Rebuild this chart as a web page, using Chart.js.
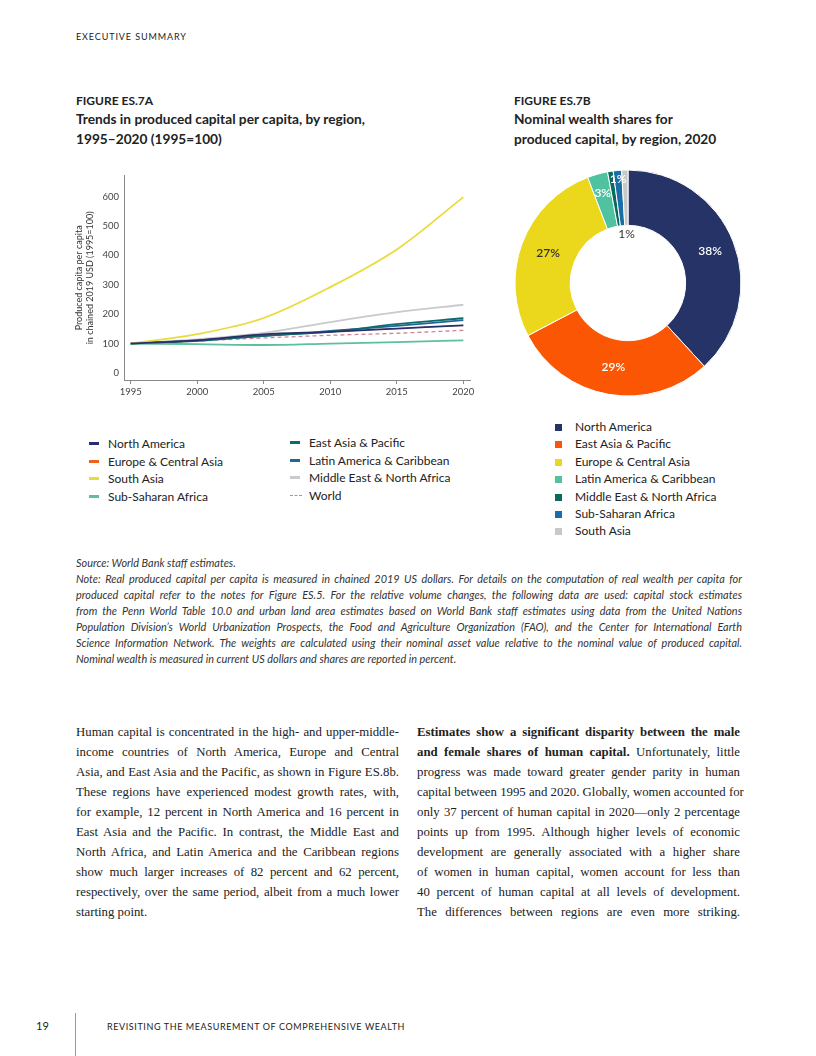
<!DOCTYPE html>
<html>
<head>
<meta charset="utf-8">
<script src="https://cdn.jsdelivr.net/npm/chart.js@4.4.1/dist/chart.umd.min.js"></script>
<style>
  body { margin: 0; background: #fff; }
  #page { position: relative; width: 816px; height: 1056px; font-family: Lato, "Noto Sans", sans-serif; color: #222; overflow: hidden; }
  .abs { position: absolute; white-space: nowrap; }
  .runhead { font-size: 9px; letter-spacing: 0.9px; }
  .foot { font-size: 9px; letter-spacing: 0.6px; }
  .figno { font-size: 12px; font-weight: 700; }
  .figtitle { font-size: 13.7px; font-weight: 700; line-height: 20px; }
  .legend { position: absolute; font-size: 12px; color: #222; }
  .legend .row { position: absolute; white-space: nowrap; height: 16px; line-height: 16px; }
  .legend .mk { position: absolute; }
  .notes { position: absolute; left: 76px; top: 555px; width: 666px; font-size: 10.9px; font-style: italic; line-height: 16px; color: #333; }
  .notes div { text-align: justify; text-align-last: justify; white-space: nowrap; }
  .notes div.last { text-align-last: left; }
  .body { position: absolute; top: 722px; width: 323px; font-family: "Liberation Serif", "DejaVu Serif", serif; font-size: 12.8px; line-height: 20px; color: #222; }
  .body div { text-align: justify; text-align-last: justify; white-space: nowrap; }
  .body div.last { text-align-last: left; }
  canvas { position: absolute; }
</style>
</head>
<body>
<div id="page">
  <div class="abs runhead" style="left:76px; top:31px;">EXECUTIVE SUMMARY</div>

  <div class="abs figno" style="left:76px; top:93px;">FIGURE ES.7A</div>
  <div class="abs figtitle" style="left:76px; top:109px;">Trends in produced capital per capita, by region,<br>1995–2020 (1995=100)</div>

  <div class="abs figno" style="left:514px; top:93px;">FIGURE ES.7B</div>
  <div class="abs figtitle" style="left:514px; top:109px;">Nominal wealth shares for<br>produced capital, by region, 2020</div>

  <div style="position:absolute; left:70px; top:165px; width:415px; height:240px;"><canvas id="lineChart" width="415" height="240"></canvas></div>
  <div style="position:absolute; left:508px; top:163px; width:240px; height:240px;"><canvas id="donutChart" width="240" height="240"></canvas></div>

  <div class="legend" id="lineLegend"></div>
  <div class="legend" id="donutLegend"></div>

  <div class="notes">
    <div class="last">Source: World Bank staff estimates.</div>
    <div>Note: Real produced capital per capita is measured in chained 2019 US dollars. For details on the computation of real wealth per capita for</div>
    <div>produced capital refer to the notes for Figure ES.5. For the relative volume changes, the following data are used: capital stock estimates</div>
    <div>from the Penn World Table 10.0 and urban land area estimates based on World Bank staff estimates using data from the United Nations</div>
    <div>Population Division’s World Urbanization Prospects, the Food and Agriculture Organization (FAO), and the Center for International Earth</div>
    <div>Science Information Network. The weights are calculated using their nominal asset value relative to the nominal value of produced capital.</div>
    <div class="last">Nominal wealth is measured in current US dollars and shares are reported in percent.</div>
  </div>

  <div class="body" style="left:76px;">
    <div>Human capital is concentrated in the high- and upper-middle-</div>
    <div>income countries of North America, Europe and Central</div>
    <div>Asia, and East Asia and the Pacific, as shown in Figure ES.8b.</div>
    <div>These regions have experienced modest growth rates, with,</div>
    <div>for example, 12 percent in North America and 16 percent in</div>
    <div>East Asia and the Pacific. In contrast, the Middle East and</div>
    <div>North Africa, and Latin America and the Caribbean regions</div>
    <div>show much larger increases of 82 percent and 62 percent,</div>
    <div>respectively, over the same period, albeit from a much lower</div>
    <div class="last">starting point.</div>
  </div>

  <div class="body" style="left:417px;">
    <div><b>Estimates show a significant disparity between the male</b></div>
    <div><b>and female shares of human capital.</b> Unfortunately, little</div>
    <div>progress was made toward greater gender parity in human</div>
    <div>capital between 1995 and 2020. Globally, women accounted for</div>
    <div>only 37 percent of human capital in 2020—only 2 percentage</div>
    <div>points up from 1995. Although higher levels of economic</div>
    <div>development are generally associated with a higher share</div>
    <div>of women in human capital, women account for less than</div>
    <div>40 percent of human capital at all levels of development.</div>
    <div>The differences between regions are even more striking.</div>
  </div>

  <div class="abs" style="left:36px; top:1019px; font-size:11px;">19</div>
  <div style="position:absolute; left:75px; top:1013px; width:1px; height:43px; background:#999;"></div>
  <div class="abs foot" style="left:107px; top:1021px;">REVISITING THE MEASUREMENT OF COMPREHENSIVE WEALTH</div>
</div>

<script>
// ---- Figure ES.7A data (index, 1995 = 100) ----
const years = [1995, 2000, 2005, 2010, 2015, 2020];
const lineRegions = ['North America', 'Europe & Central Asia', 'South Asia', 'Sub-Saharan Africa',
                     'East Asia & Pacific', 'Latin America & Caribbean', 'Middle East & North Africa', 'World'];
const northAmerica = [100, 111, 131, 140, 151, 162];
const europeCentralAsia = [100, 111, 131, 140, 151, 162]; // not visible in the picture, sits under North America
const southAsia = [100, 132, 187, 292, 420, 598];
const subSaharanAfrica = [100, 98, 95, 100, 105, 111];
const eastAsiaPacific = [100, 109, 127, 140, 166, 186];
const latinAmerica = [100, 111, 125, 143, 160, 180];
const middleEastNorthAfrica = [100, 114, 136, 173, 207, 232];
const world = [100, 109, 119, 128, 135, 145];
const yTicks = [0, 100, 200, 300, 400, 500, 600];
const xTicks = [1995, 2000, 2005, 2010, 2015, 2020];

// ---- Figure ES.7B data (percent of produced capital, 2020) ----
const donutRegions = ['North America', 'East Asia & Pacific', 'Europe & Central Asia', 'Latin America & Caribbean',
                      'Middle East & North Africa', 'Sub-Saharan Africa', 'South Asia'];
const donutShares = [38.2, 29.1, 26.9, 2.9, 0.8, 1.2, 0.9];
const donutLabels = ['38%', '29%', '27%', '3%', '', '1%', '1%'];

const lineColors = ['#27306a', '#f0601a', '#e8dc3c', '#5cbf9d', '#0f6a6a', '#1f6799', '#c9c9cf', '#cf8597'];
const donutColors = ['#253366', '#fa5604', '#ebd81c', '#4fc2a0', '#0b6a5e', '#1a6ea8', '#c8c8c8'];

const seriesValues = [northAmerica, europeCentralAsia, southAsia, subSaharanAfrica,
                      eastAsiaPacific, latinAmerica, middleEastNorthAfrica, world];

const axisColor = '#8a8a8a';
const tickFont = { family: 'Lato', size: 9.5 };

new Chart(document.getElementById('lineChart'), {
    type: 'line',
    data: {
        datasets: lineRegions.map((name, i) => ({
            label: name,
            data: years.map((y, j) => ({ x: y, y: seriesValues[i][j] })),
            borderColor: lineColors[i],
            borderWidth: name === 'World' ? 1.3 : (name === 'Europe & Central Asia' ? 0.8 : 1.8),
            borderDash: name === 'World' ? [4, 3] : [],
            pointRadius: 0,
            cubicInterpolationMode: 'monotone',
            fill: false
        }))
    },
    options: {
        responsive: false,
        animation: false,
        layout: { padding: { top: 10, right: 15, left: 0, bottom: 0 } },
        plugins: { legend: { display: false }, tooltip: { enabled: false } },
        scales: {
            x: {
                type: 'linear',
                min: 1994.5,
                max: 2020.5,
                afterBuildTicks: s => { s.ticks = xTicks.map(v => ({ value: v })); },
                afterFit: s => { s.height = 25; },
                grid: { drawOnChartArea: false, drawTicks: true, tickLength: 4, color: axisColor },
                border: { color: axisColor },
                ticks: { font: tickFont, color: '#444', padding: 2, maxRotation: 0, callback: v => String(v) }
            },
            y: {
                min: -24,
                max: 671,
                afterBuildTicks: s => { s.ticks = yTicks.map(v => ({ value: v })); },
                afterFit: s => { s.width = 54; },
                grid: { drawOnChartArea: false, drawTicks: false, color: axisColor },
                border: { color: axisColor },
                ticks: { font: tickFont, color: '#444', padding: 5 },
                title: {
                    display: true,
                    text: ['Produced capita per capita', 'in chained 2019 USD (1995=100)'],
                    font: { family: 'Lato', size: 9 },
                    color: '#333',
                    padding: { top: 4, bottom: 0 }
                }
            }
        }
    }
});

// percent labels on the donut slices
const sliceLabels = {
    id: 'sliceLabels',
    afterDatasetsDraw(chart) {
        const ctx = chart.ctx;
        const arcs = chart.getDatasetMeta(0).data;
        // where each label sits: radius factor between inner (0) and outer (1), or inside the hole
        const place = [0.55, 0.5, 0.5, 0.65, null, 0.85, -0.15];
        const dark = [false, false, true, false, false, false, true];
        ctx.save();
        ctx.textAlign = 'center';
        ctx.textBaseline = 'middle';
        arcs.forEach((arc, i) => {
            if (!donutLabels[i]) return;
            const p = arc.getProps(['x', 'y', 'startAngle', 'endAngle', 'innerRadius', 'outerRadius'], true);
            const mid = (p.startAngle + p.endAngle) / 2;
            const r = p.innerRadius + (p.outerRadius - p.innerRadius) * place[i];
            const x = p.x + Math.cos(mid) * r;
            const y = p.y + Math.sin(mid) * r;
            ctx.font = (i === 6 ? '400 ' : '600 ') + '12px Lato';
            ctx.fillStyle = dark[i] ? '#333' : '#fff';
            ctx.fillText(donutLabels[i], x, y);
        });
        ctx.restore();
    }
};

new Chart(document.getElementById('donutChart'), {
    type: 'doughnut',
    data: {
        labels: donutRegions,
        datasets: [{
            data: donutShares,
            backgroundColor: donutColors,
            borderColor: '#fff',
            borderWidth: 1
        }]
    },
    options: {
        responsive: false,
        animation: false,
        radius: 113,
        cutout: 61,
        plugins: { legend: { display: false }, tooltip: { enabled: false } }
    },
    plugins: [sliceLabels]
});

// legends as html
function addRow(box, name, color, left, top, dashed, square) {
    const row = document.createElement('div');
    row.className = 'row';
    row.style.left = left + 'px';
    row.style.top = top + 'px';
    const mk = document.createElement('div');
    mk.className = 'mk';
    if (square) {
        mk.style.cssText = 'left:0;top:5px;width:7px;height:7px;background:' + color;
    } else if (dashed) {
        mk.style.cssText = 'left:0;top:7px;width:12px;height:0;border-top:1.5px dashed ' + color;
    } else {
        mk.style.cssText = 'left:0;top:6px;width:10px;height:3px;background:' + color;
    }
    const tx = document.createElement('span');
    tx.textContent = name;
    tx.style.cssText = 'position:absolute;left:' + (square ? 20 : 19) + 'px;top:0';
    row.appendChild(mk);
    row.appendChild(tx);
    box.appendChild(row);
}

const lineLegend = document.getElementById('lineLegend');
lineRegions.forEach((name, i) => {
    const col = i < 4 ? 0 : 1;
    const r = i % 4;
    addRow(lineLegend, name, lineColors[i], col ? 290 : 89, (col ? 435 : 436) + r * 17.5, name === 'World', false);
});

const donutLegend = document.getElementById('donutLegend');
donutRegions.forEach((name, i) => {
    addRow(donutLegend, name, donutColors[i], 555, 419 + i * 17.4, false, true);
});
</script>
</body>
</html>
